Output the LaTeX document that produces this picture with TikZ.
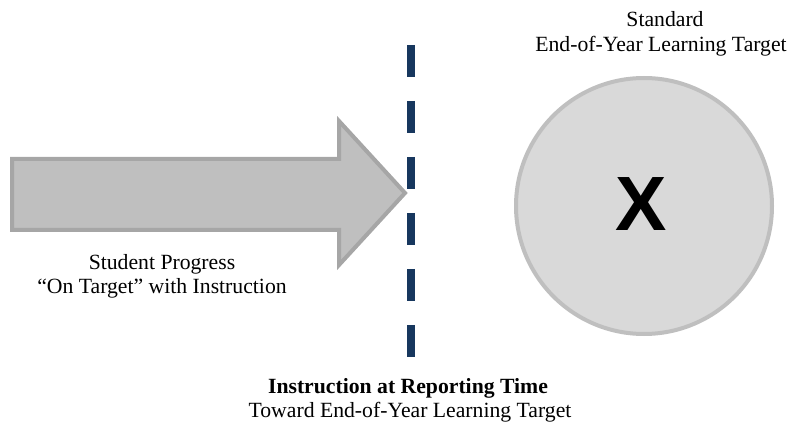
\documentclass[tikz,border=0pt]{standalone}
\usepackage{fontspec}
\setmainfont{Liberation Serif}
\newfontfamily\xfont{Liberation Sans}
\begin{document}
\begin{tikzpicture}[x=1pt,y=1pt,
  lbl/.style={font=\fontsize{21.7}{25}\selectfont, inner sep=0pt, anchor=base},
  bigarrow/.style={fill={rgb,255:red,191;green,191;blue,191}, draw={rgb,255:red,166;green,166;blue,166}, line width=4pt, line join=miter},
  target/.style={circle, fill={rgb,255:red,217;green,217;blue,217}, draw={rgb,255:red,191;green,191;blue,191}, line width=4pt, minimum size=256pt, inner sep=0pt},
  divider/.style={draw={rgb,255:red,23;green,55;blue,94}, line width=8pt, dash pattern=on 32pt off 24pt}]
\useasboundingbox (0,0) rectangle (788,421);
% arrow
\draw[bigarrow] (12,262) -- (339,262) -- (339,300) -- (405,228) -- (339,156) -- (339,191) -- (12,191) -- cycle;
% divider
\coordinate (dtop) at (410.5,376);
\coordinate (dbot) at (410.5,64);
\draw[divider] (dtop) -- (dbot);
% target circle
\node[target] (circ) at (644,215) {};
\node[font=\xfont\bfseries\fontsize{77}{77}\selectfont, inner sep=0pt] (x) at (641,217) {X};
% labels
\node[lbl] (std1) at (665,394) {Standard};
\node[lbl] (std2) at (661,369) {End-of-Year Learning Target};
\node[lbl] (sp1) at (162,151) {Student Progress};
\node[lbl] (sp2) at (162,127) {“On Target” with Instruction};
\node[lbl, font=\bfseries\fontsize{21.7}{25}\selectfont] (ir1) at (408,28) {Instruction at Reporting Time};
\node[lbl] (ir2) at (410,4) {Toward End-of-Year Learning Target};
\end{tikzpicture}
\end{document}
